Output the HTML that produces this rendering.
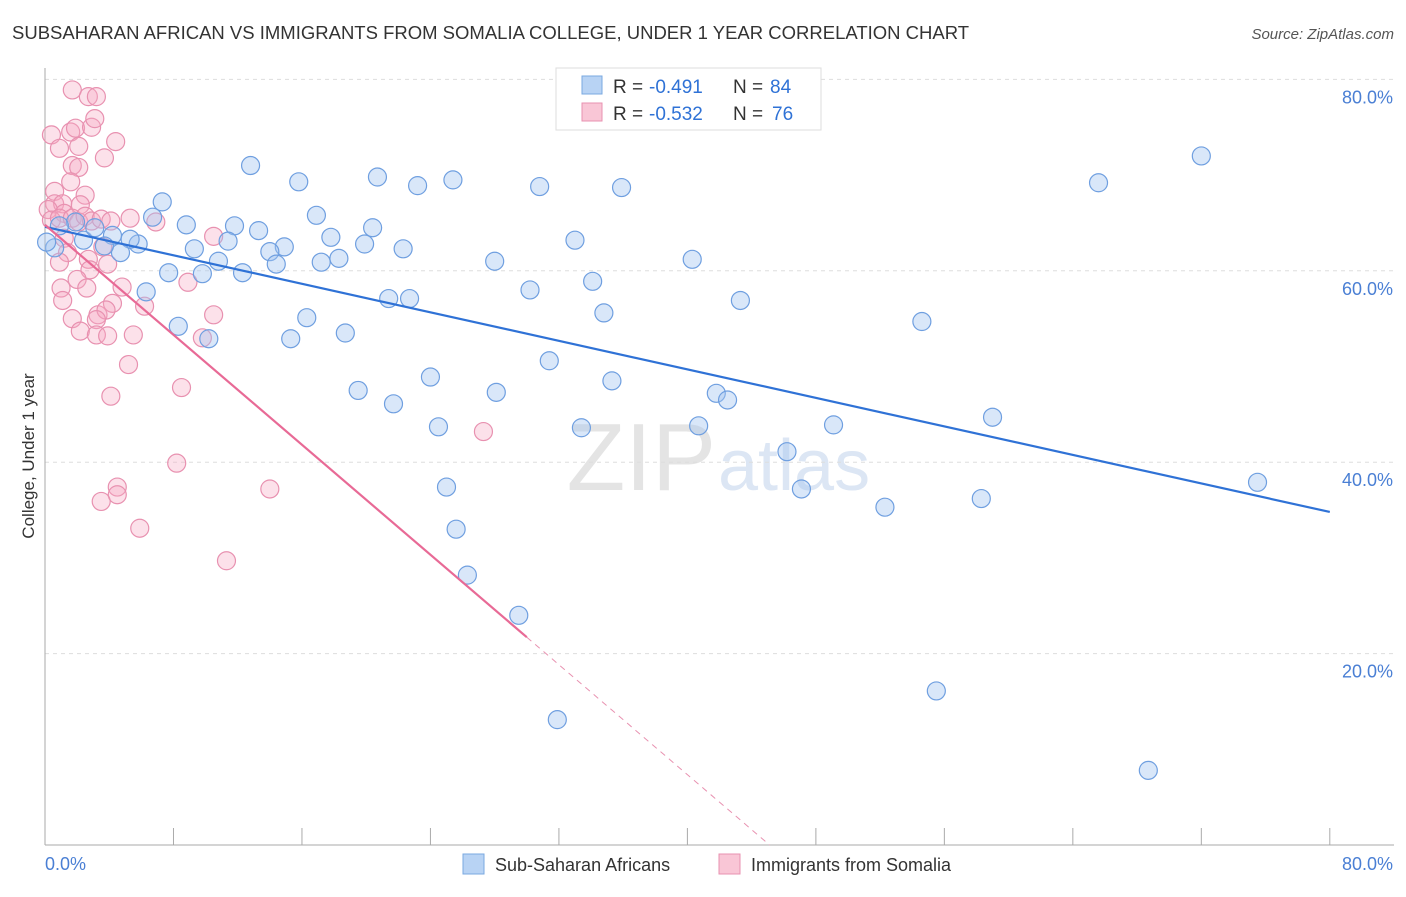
<!DOCTYPE html>
<html><head><meta charset="utf-8"><style>
body{margin:0;background:#fff;font-family:"Liberation Sans",sans-serif;}
svg text{font-family:"Liberation Sans",sans-serif;}
</style></head><body>
<svg id="chart" width="1406" height="892" xmlns="http://www.w3.org/2000/svg">
<text x="12" y="39" font-size="18.5" fill="#333">SUBSAHARAN AFRICAN VS IMMIGRANTS FROM SOMALIA COLLEGE, UNDER 1 YEAR CORRELATION CHART</text>
<text x="1394" y="39" font-size="15" fill="#555" text-anchor="end" font-style="italic">Source: ZipAtlas.com</text>
<text x="716" y="490" font-size="96" fill="#e4e4e4" text-anchor="end" font-family="Liberation Serif">ZIP</text>
<text x="718" y="490" font-size="72" fill="#dce6f4">atlas</text>
<g id="grid"></g>
<g id="axes"></g>
<g id="pink"></g>
<g id="blue"></g>
<g id="lines"></g>
<text transform="translate(34,456) rotate(-90)" font-size="17" fill="#333" text-anchor="middle">College, Under 1 year</text>
<text x="45" y="870" font-size="18" fill="#4a7fd4">0.0%</text>
<text x="1393" y="870" font-size="18" fill="#4a7fd4" text-anchor="end">80.0%</text>
<g>
<rect x="556" y="68" width="265" height="62" fill="#fff" stroke="#ddd"/>
<rect x="582" y="76" width="20" height="18" fill="#b8d3f4" stroke="#7aa8e0"/>
<text x="613" y="93" font-size="19" fill="#333">R = </text>
<text x="649" y="93" font-size="19" fill="#2f72d6">-0.491</text>
<text x="733" y="93" font-size="19" fill="#333">N = </text>
<text x="770" y="93" font-size="19" fill="#2f72d6">84</text>
<rect x="582" y="103" width="20" height="18" fill="#f9c6d6" stroke="#e891b0"/>
<text x="613" y="120" font-size="19" fill="#333">R = </text>
<text x="649" y="120" font-size="19" fill="#2f72d6">-0.532</text>
<text x="733" y="120" font-size="19" fill="#333">N = </text>
<text x="772" y="120" font-size="19" fill="#2f72d6">76</text>
</g>
<g>
<rect x="463" y="854" width="21" height="20" fill="#b8d3f4" stroke="#7aa8e0"/>
<text x="495" y="871" font-size="18" fill="#333">Sub-Saharan Africans</text>
<rect x="719" y="854" width="21" height="20" fill="#f9c6d6" stroke="#e891b0"/>
<text x="751" y="871" font-size="18" fill="#333">Immigrants from Somalia</text>
</g>
</svg>
<script>
const yTicks=[20,40,60,80];
const yTickLabels=["20.0%","40.0%","60.0%","80.0%"];
const xTicks=[0,8,16,24,32,40,48,56,64,72,80];
const blueX=[12.8,15.8,20.7,23.2,25.4,30.8,35.9,72.0,65.6,7.3,6.7,8.8,11.8,13.3,16.9,17.8,20.4,11.4,14.9,14.0,9.3,5.8,5.3,4.7,4.2,3.7,2.4,3.1,1.9,0.9,0.6,7.7,9.8,10.8,12.3,14.4,17.2,18.3,19.9,22.3,28.0,33.0,40.3,34.1,30.2,6.3,21.4,22.7,34.8,43.3,54.6,16.3,8.3,10.2,15.3,18.7,31.4,24.0,19.5,28.1,35.3,41.8,42.5,21.7,24.5,33.4,40.7,49.1,59.0,46.2,25.0,47.1,52.3,58.3,75.5,25.6,26.3,29.5,55.5,31.9,68.7,0.1];
const blueY=[71.0,69.3,69.8,68.9,69.5,68.8,68.7,72.0,69.2,67.2,65.6,64.8,64.7,64.2,65.8,63.5,64.5,63.1,62.5,62.0,62.3,62.8,63.3,61.9,63.7,62.6,63.2,64.5,65.1,64.7,62.4,59.8,59.7,61.0,59.8,60.7,60.9,61.3,62.8,62.3,61.0,63.2,61.2,58.9,58.0,57.8,57.1,57.1,55.6,56.9,54.7,55.1,54.2,52.9,52.9,53.5,50.6,48.9,47.5,47.3,48.5,47.2,46.5,46.1,43.7,43.6,43.8,43.9,44.7,41.1,37.4,37.2,35.3,36.2,37.9,33.0,28.2,24.0,16.1,13.1,7.8,63.0];
const pinkX=[1.7,2.7,3.2,0.4,1.6,1.9,2.9,3.1,4.4,0.9,2.1,3.7,1.7,2.1,1.6,0.6,2.5,0.6,1.1,2.2,0.2,1.2,0.4,0.9,1.7,2.1,2.5,2.9,3.5,4.1,5.3,6.9,10.5,1.2,1.4,3.6,0.9,2.7,2.8,3.9,2.0,2.6,1.0,4.8,8.9,1.1,4.2,6.2,1.7,3.3,3.8,3.2,10.5,2.2,3.2,3.9,5.5,9.8,5.2,8.5,4.1,27.3,8.2,4.5,4.5,3.5,14.0,5.9,11.3];
const pinkY=[78.9,78.2,78.2,74.2,74.5,74.9,75.0,75.9,73.5,72.8,73.0,71.8,71.0,70.8,69.3,68.3,67.9,67.0,67.0,66.9,66.4,66.0,65.3,65.5,65.5,65.1,65.7,65.2,65.4,65.2,65.5,65.1,63.6,63.4,61.9,62.5,60.9,61.2,60.1,60.7,59.1,58.2,58.2,58.3,58.8,56.9,56.6,56.3,55.0,55.4,55.9,54.9,55.4,53.7,53.3,53.2,53.3,53.0,50.2,47.8,46.9,43.2,39.9,37.4,36.6,35.9,37.2,33.1,29.7];
const blueTrend=[64.6,34.8];
const pinkTrend=[64.8,-50.1];
const pinkSolidEnd=30;
const NS="http://www.w3.org/2000/svg";
const X=v=>45+v*16.06, Y=v=>845-v*9.57;
function mk(tag,attrs,parent){const e=document.createElementNS(NS,tag);for(const k in attrs)e.setAttribute(k,attrs[k]);document.getElementById(parent).appendChild(e);return e;}
yTicks.forEach((t,i)=>{
 const l=mk('line',{x1:45,x2:1394,y1:Y(t),y2:Y(t),stroke:'#ddd','stroke-dasharray':'4,4'},'grid');
 
 
 const tx=mk('text',{x:1393,y:Y(t)+24,'font-size':18,fill:'#4a7fd4','text-anchor':'end'},'grid');
 tx.textContent=yTickLabels[i];
 
 
});
const ax=mk('line',{x1:45,x2:45,y1:68,y2:845,stroke:'#aaa'},'axes');


const bx=mk('line',{x1:45,x2:1394,y1:845,y2:845,stroke:'#aaa'},'axes');


xTicks.forEach(t=>{const l=mk('line',{x1:X(t),x2:X(t),y1:828,y2:845,stroke:'#aaa'},'axes');
 
 });
pinkX.forEach((v,i)=>{const c=mk('circle',{cx:X(v),cy:Y(pinkY[i]),r:9,fill:'rgba(245,170,195,0.35)',stroke:'#e891b0','stroke-width':1.2},'pink');
 
 });
blueX.forEach((v,i)=>{const c=mk('circle',{cx:X(v),cy:Y(blueY[i]),r:9,fill:'rgba(160,195,240,0.4)',stroke:'#6f9fe0','stroke-width':1.2},'blue');
 
 });
const bl=mk('line',{x1:X(0),y1:Y(blueTrend[0]),x2:X(80),y2:Y(blueTrend[1]),stroke:'#2f72d6','stroke-width':2.2},'lines');


const pv=x=>pinkTrend[0]+(pinkTrend[1]-pinkTrend[0])*x/80;
const pl=mk('line',{x1:X(0),y1:Y(pv(0)),x2:X(pinkSolidEnd),y2:Y(pv(pinkSolidEnd)),stroke:'#e86a96','stroke-width':2.2},'lines');


const xz=80*pinkTrend[0]/(pinkTrend[0]-pinkTrend[1]);
const pd=mk('line',{x1:X(pinkSolidEnd),y1:Y(pv(pinkSolidEnd)),x2:X(xz),y2:Y(0),stroke:'#e891b0','stroke-width':1,'stroke-dasharray':'6,5'},'lines');


</script>
</body></html>
